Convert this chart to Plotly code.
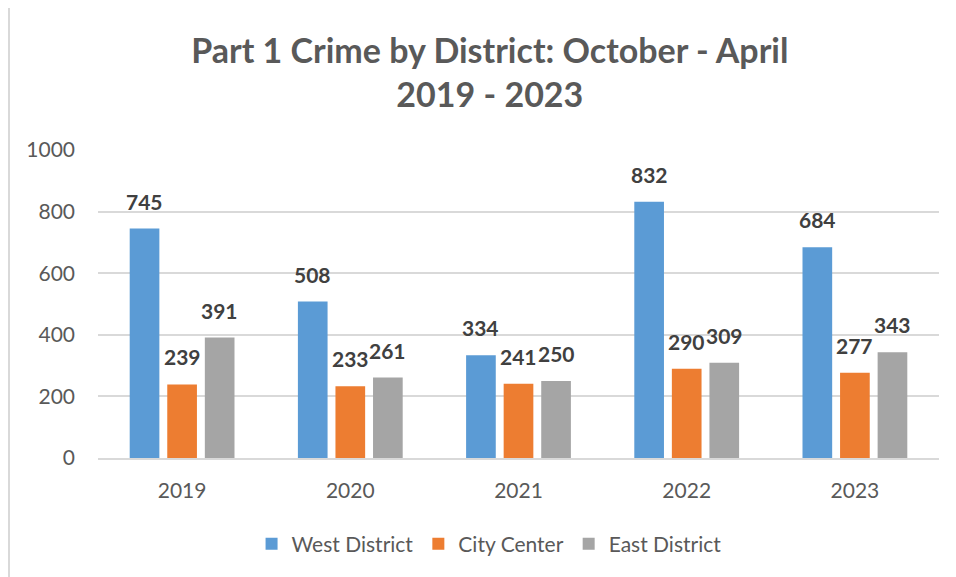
import plotly.graph_objects as go

years = ["2019", "2020", "2021", "2022", "2023"]
west = [745, 508, 334, 832, 684]
city = [239, 233, 241, 290, 277]
east = [391, 261, 250, 309, 343]
series_names = ["West District", "City Center", "East District"]
colors = ["#5B9BD5", "#ED7D31", "#A5A5A5"]

FONT = "Lato"
BARGAP = 0.33
GROUPGAP = 0.21
PLOT_W = 956 - 90 - 25   # plot area width in px
PLOT_H = 577 - 142 - 127

fig = go.Figure()
series = [west, city, east]
for name, vals, col in zip(series_names, series, colors):
    fig.add_trace(go.Bar(x=years, y=vals, name=name, marker_color=col,
                         marker_line_width=0))

# data labels above each bar; category axis positions are serial numbers
slot = PLOT_W / len(years) * (1 - BARGAP) / 3
for i, vals in enumerate(series):
    for j, v in enumerate(vals):
        fig.add_annotation(x=j, y=v, text=str(v), showarrow=False,
                           xshift=(i - 1) * slot, yanchor="bottom", yshift=13,
                           font=dict(family=FONT, size=21, color="#404040", weight="bold"))

fig.update_layout(
    width=956, height=577,
    margin=dict(l=90, r=25, t=142, b=127, autoexpand=False),
    paper_bgcolor="white", plot_bgcolor="white",
    barmode="group", bargap=BARGAP, bargroupgap=GROUPGAP,
    title=dict(text="<b>Part 1 Crime by District: October - April<br>2019 - 2023</b>",
               x=0.504, xanchor="center", y=0.905, yanchor="top",
               font=dict(family=FONT, size=34, color="#595959")),
    font=dict(family=FONT, size=21, color="#595959"),
    legend=dict(orientation="h", x=0.465, xanchor="center", y=-0.213, yanchor="top",
                font=dict(family=FONT, size=21, color="#595959"),
                itemwidth=30, traceorder="normal"),
)
fig.update_yaxes(range=[0, 1000], dtick=200, showgrid=True, gridcolor="#D9D9D9",
                 gridwidth=1.5, zeroline=False, showline=False, ticklabelstandoff=22)
fig.update_xaxes(type="category", showline=True, linecolor="#D9D9D9", linewidth=1.5,
                 ticklabelstandoff=13)

# light grey chart border (runs off the right and bottom edges)
fig.add_shape(type="rect", xref="paper", yref="paper",
              x0=(9 - 98) / PLOT_W, x1=1.2, y0=-1, y1=(458 - 5) / PLOT_H,
              line=dict(color="#D9D9D9", width=2), fillcolor="rgba(0,0,0,0)")

fig.write_html("out.html")
